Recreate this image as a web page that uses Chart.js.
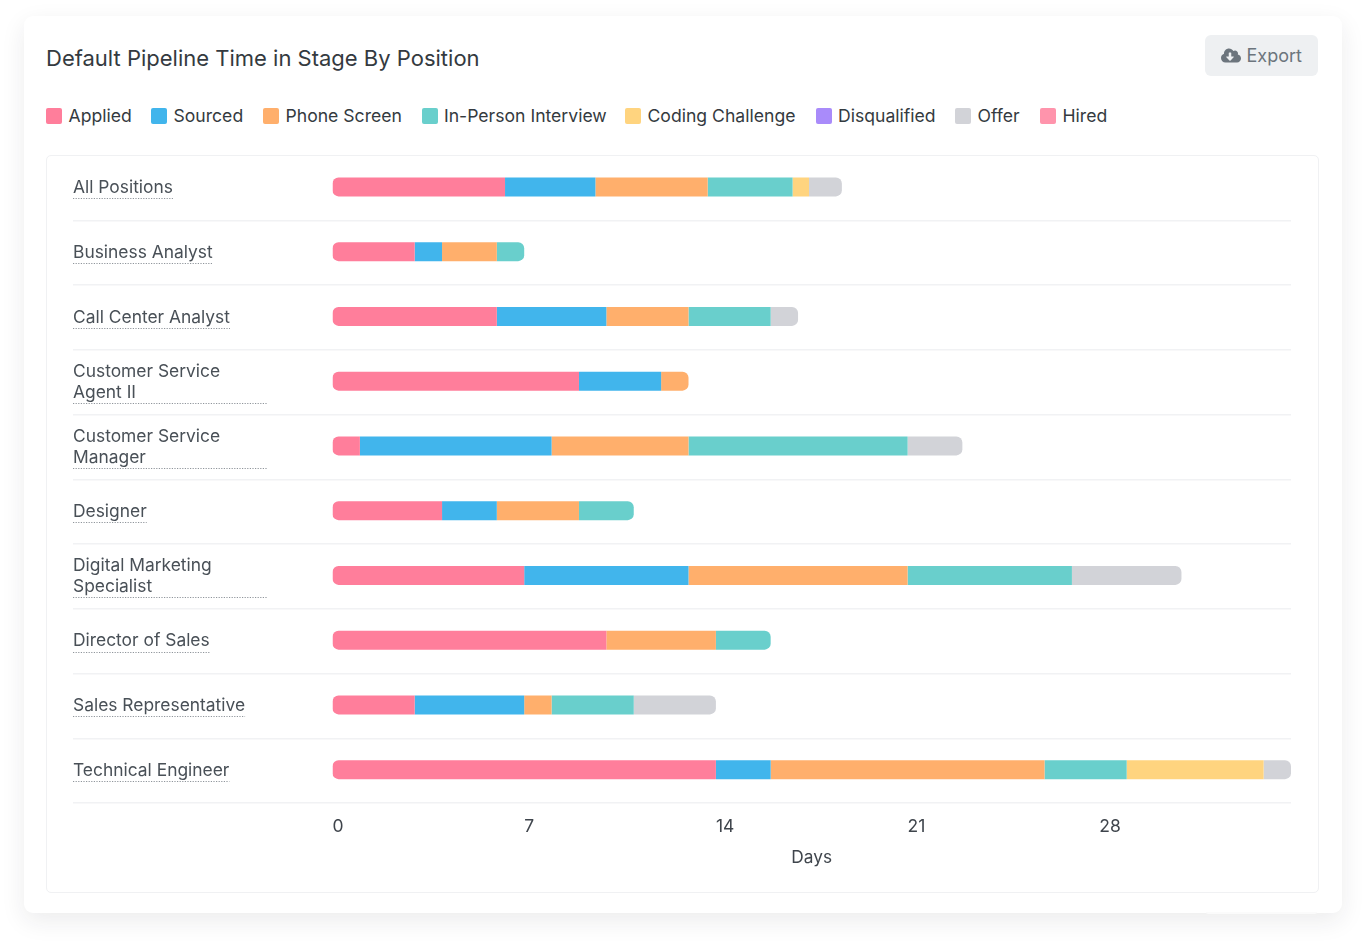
<!DOCTYPE html>
<html><head><meta charset="utf-8">
<script src="https://cdn.jsdelivr.net/npm/chart.js@4"></script>
<style>
html,body{margin:0;padding:0;background:#fff;width:1366px;height:946px;overflow:hidden;font-family:Inter,sans-serif}
#card{position:absolute;left:24px;top:16px;width:1318px;height:897px;background:#fff;border-radius:9px;box-shadow:0 8px 24px rgba(30,35,45,.085)}
#title{position:absolute;left:46px;top:43px;font-size:22px;line-height:30px;color:#343a40;white-space:nowrap}
#export{position:absolute;left:1205px;top:35px;width:113px;height:40.5px;background:#eef0f2;border-radius:6px;color:#6c757d;font-size:18px;line-height:41px;white-space:nowrap}
#export svg{position:absolute;left:16px;top:12px;width:20px;height:17px}
#export span{position:absolute;left:41.5px;top:0}
#legend{position:absolute;left:46px;top:105px;height:22px;display:flex;font-size:17.6px;line-height:22px;color:#343a40;white-space:nowrap}
#legend .it{position:absolute;top:0;display:flex;align-items:center}
#legend i{display:block;width:16px;height:16px;border-radius:2px;margin-right:6.5px}
#panel{position:absolute;left:46px;top:155px;width:1271px;height:736px;border:1px solid #f0f1f3;border-radius:5px}
#chart{position:absolute;left:46px;top:155px}
#nub{position:absolute;left:1206px;top:912px;width:111px;height:2px;background:#fbfbfb;border-radius:0 0 4px 4px}
</style></head>
<body>
<div id="card"></div>
<div id="nub"></div>
<div id="title">Default Pipeline Time in Stage By Position</div>
<div id="export"><svg viewBox="0 0 640 512"><path fill="#6c757d" d="M537.6 226.6c4.1-10.7 6.4-22.4 6.4-34.6 0-53-43-96-96-96-19.7 0-38.1 6-53.3 16.2C367 64.2 315.3 32 256 32c-88.4 0-160 71.6-160 160 0 2.7.1 5.4.2 8.1C40.2 219.8 0 273.2 0 336c0 79.5 64.5 144 144 144h368c70.7 0 128-57.3 128-128 0-61.9-44-113.6-102.4-125.4zm-132.9 88.7L299.3 420.7c-6.2 6.2-16.4 6.2-22.6 0L171.3 315.3c-10.1-10.1-2.9-27.3 11.3-27.3H248V176c0-8.8 7.2-16 16-16h48c8.8 0 16 7.2 16 16v112h65.4c14.2 0 21.4 17.2 11.3 27.3z"/></svg><span>Export</span></div>
<div id="legend"></div>
<div id="panel"></div>
<canvas id="chart" width="1272" height="737" style="width:1272px;height:737px"></canvas>
<script>
const positions = [
  "All Positions",
  "Business Analyst",
  "Call Center Analyst",
  ["Customer Service", "Agent II"],
  ["Customer Service", "Manager"],
  "Designer",
  ["Digital Marketing", "Specialist"],
  "Director of Sales",
  "Sales Representative",
  "Technical Engineer"
];
const stageNames = ["Applied","Sourced","Phone Screen","In-Person Interview","Coding Challenge","Disqualified","Offer","Hired"];
const stageColors = ["#ff7e9b","#41b5ec","#ffaf6c","#69cfcc","#ffd47f","#a98bfa","#d2d3d8","#ff94ac"];
const legendLeft = [0, 105, 217, 375.5, 579, 769.5, 909, 994];
const applied      = [6.3, 3, 6, 9, 1, 4, 7, 10, 3, 14];
const sourced      = [3.3, 1, 4, 3, 7, 2, 6, 0, 4, 2];
const phoneScreen  = [4.1, 2, 3, 1, 5, 3, 8, 4, 1, 10];
const interview    = [3.1, 1, 3, 0, 8, 2, 6, 2, 3, 3];
const coding       = [0.6, 0, 0, 0, 0, 0, 0, 0, 0, 5];
const disqualified = [0, 0, 0, 0, 0, 0, 0, 0, 0, 0];
const offer        = [1.2, 0, 1, 0, 2, 0, 4, 0, 3, 1];
const hired        = [0, 0, 0, 0, 0, 0, 0, 0, 0, 0];
const stageValues = [applied, sourced, phoneScreen, interview, coding, disqualified, offer, hired];
const dayTicks = [0, 7, 14, 21, 28];
const axisMax = 35;
const axisTitle = "Days";

const legend = document.getElementById('legend');
stageNames.forEach((n, i) => {
  const d = document.createElement('div'); d.className = 'it'; d.style.left = legendLeft[i] + 'px';
  const s = document.createElement('i'); s.style.background = stageColors[i];
  const t = document.createElement('span'); t.textContent = n;
  d.append(s, t); legend.append(d);
});

const FONT = 'Inter, sans-serif';
const R = 6;
function corners(ctx) {
  const row = ctx.dataIndex, ds = ctx.datasetIndex;
  const nz = stageValues.map((v, k) => v[row] > 0 ? k : -1).filter(k => k >= 0);
  const first = ds === nz[0], last = ds === nz[nz.length - 1];
  return {topLeft: first ? R : 0, bottomLeft: first ? R : 0, topRight: last ? R : 0, bottomRight: last ? R : 0};
}
const SEP = '#f1f2f4';
const nudge = {
  id: 'nudge',
  beforeDatasetsDraw(c) { c.ctx.save(); c.ctx.translate(0, -1); },
  afterDatasetsDraw(c) { c.ctx.restore(); }
};
const underline = {
  id: 'underline',
  afterDraw(c) {
    const y = c.scales.y, ctx = c.ctx;
    ctx.save();
    ctx.font = '17.4px ' + FONT;
    ctx.strokeStyle = '#8f959b';
    ctx.lineWidth = 1.2;
    ctx.setLineDash([1.2, 1.4]);
    positions.forEach((p, i) => {
      const cy = y.getPixelForTick(i);
      const multi = Array.isArray(p);
      const w = multi ? 195 : ctx.measureText(p).width;
      const yy = Math.round(cy + (multi ? 21 : 10.5)) + .5;
      ctx.beginPath(); ctx.moveTo(y.left, yy); ctx.lineTo(y.left + w, yy); ctx.stroke();
    });
    ctx.restore();
  }
};
new Chart(document.getElementById('chart'), {
  type: 'bar',
  plugins: [nudge, underline],
  data: {
    labels: positions,
    datasets: stageNames.map((n, i) => ({
      label: n, data: stageValues[i], backgroundColor: stageColors[i],
      borderRadius: corners, borderSkipped: false, inflateAmount: 0, barThickness: 19
    }))
  },
  options: {
    indexAxis: 'y',
    responsive: false,
    animation: false,
    layout: {padding: {left: 27, right: 27, top: 0.5, bottom: 0}},
    plugins: {legend: {display: false}, title: {display: false}, tooltip: {enabled: false}},
    scales: {
      x: {
        stacked: true, min: 0, max: axisMax,
        afterBuildTicks(a) { a.ticks = dayTicks.map(value => ({value})); },
        afterFit(a) { a.height = 89; },
        grid: {display: false}, border: {display: false},
        ticks: {align: 'start', color: '#3f454c', font: {family: FONT, size: 17.5}, padding: 5, maxRotation: 0, autoSkip: false},
        title: {display: true, text: axisTitle, color: '#3f454c', font: {family: FONT, size: 17.3}, padding: {top: 0, bottom: 24}}
      },
      y: {
        stacked: true,
        afterFit(a) { a.width = 259.5; a.paddingTop = 0; a.paddingBottom = 0; },
        grid: {
          offset: true, drawTicks: true, tickLength: 259.5, lineWidth: 1.5,
          color: c => c.index === 0 ? 'rgba(0,0,0,0)' : SEP,
          tickColor: c => c.index === 0 ? 'rgba(0,0,0,0)' : SEP
        },
        border: {display: false},
        ticks: {crossAlign: 'far', color: '#495057', font: {family: FONT, size: 17.4, lineHeight: 1.21}, padding: 0, autoSkip: false}
      }
    }
  }
});
</script>
</body></html>
